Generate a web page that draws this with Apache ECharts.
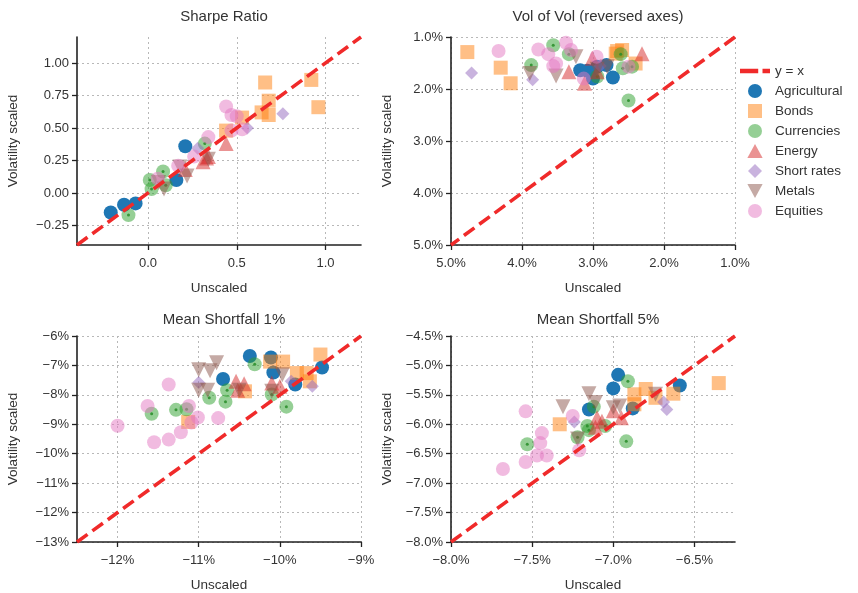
<!DOCTYPE html>
<html>
<head>
<meta charset="utf-8">
<script src="https://cdn.jsdelivr.net/npm/echarts@6/dist/echarts.min.js"></script>
<style>
  html, body { margin: 0; padding: 0; background: #ffffff; }
  #chart { width: 858px; height: 593px; }
</style>
</head>
<body>
<div id="chart"></div>
<script>
// ---- asset classes, in drawing order ----
const classNames = ['Agricultural', 'Bonds', 'Currencies', 'Energy', 'Short rates', 'Metals', 'Equities'];

// ---- Sharpe ratio: [unscaled, volatility scaled] ----
const sharpeAgricultural = [[-0.21, -0.15], [-0.135, -0.09], [-0.07, -0.08], [0.21, 0.36], [0.16, 0.10]];
const sharpeBonds = [[0.66, 0.85], [0.92, 0.87], [0.96, 0.66], [0.68, 0.71], [0.64, 0.62], [0.68, 0.60], [0.44, 0.48], [0.53, 0.58]];
const sharpeCurrencies = [[-0.11, -0.17], [0.01, 0.10], [0.02, 0.03], [0.085, 0.165], [0.10, 0.06], [0.32, 0.38]];
const sharpeEnergy = [[0.21, 0.18], [0.31, 0.24], [0.34, 0.28], [0.44, 0.38], [0.33, 0.27]];
const sharpeShortRates = [[0.76, 0.61], [0.56, 0.50], [0.28, 0.345]];
const sharpeMetals = [[0.09, 0.03], [0.22, 0.13], [0.18, 0.20], [0.34, 0.26], [0.06, 0.08]];
const sharpeEquities = [[0.44, 0.665], [0.47, 0.60], [0.50, 0.59], [0.53, 0.49], [0.47, 0.48], [0.34, 0.43], [0.26, 0.28], [0.17, 0.21], [0.055, 0.11]];

// ---- Vol of vol (%), both axes reversed ----
const volAgricultural = [[3.18, 1.64], [3.00, 1.80], [2.72, 1.78], [2.81, 1.54], [2.94, 1.57], [3.08, 1.65]];
const volBonds = [[4.77, 1.29], [4.30, 1.59], [4.16, 1.89], [2.66, 1.27], [2.59, 1.25], [2.40, 1.51], [2.68, 1.32]];
const volCurrencies = [[3.87, 1.54], [3.56, 1.16], [3.34, 1.33], [2.61, 1.33], [2.58, 1.60], [2.45, 1.57], [2.50, 2.22], [2.94, 1.76]];
const volEnergy = [[2.31, 1.32], [3.01, 1.41], [3.34, 1.67], [3.12, 1.89], [2.94, 1.67]];
const volShortRates = [[4.71, 1.69], [3.85, 1.82], [2.90, 1.56]];
const volMetals = [[3.89, 1.70], [3.52, 1.75], [3.24, 1.38], [2.94, 1.62], [2.80, 1.57]];
const volEquities = [[4.33, 1.27], [3.77, 1.24], [3.63, 1.33], [3.38, 1.11], [3.31, 1.25], [3.52, 1.51], [3.56, 1.56], [2.95, 1.38], [3.13, 1.80], [2.50, 1.57]];

// ---- Mean shortfall 1% (%) ----
const ms1Agricultural = [[-10.37, -6.68], [-10.11, -6.73], [-10.08, -7.24], [-10.70, -7.46], [-9.81, -7.65], [-9.48, -7.07]];
const ms1Bonds = [[-9.50, -6.63], [-10.12, -6.87], [-9.96, -6.87], [-9.79, -7.26], [-9.67, -7.26], [-9.63, -7.54], [-10.43, -7.88], [-11.13, -8.92]];
const ms1Currencies = [[-10.31, -6.96], [-10.65, -7.84], [-10.87, -8.10], [-10.67, -8.23], [-10.10, -7.99], [-9.92, -8.40], [-11.58, -8.64], [-11.28, -8.51], [-11.15, -8.49]];
const ms1Energy = [[-10.54, -7.54], [-10.44, -7.62], [-10.52, -7.84], [-10.10, -7.60], [-10.00, -7.71]];
const ms1ShortRates = [[-11.00, -7.58], [-9.86, -7.54], [-9.60, -7.71]];
const ms1Metals = [[-10.78, -6.91], [-11.00, -7.15], [-10.86, -7.18], [-11.00, -7.84], [-10.89, -7.84], [-10.50, -7.84], [-9.97, -7.32], [-10.10, -7.88]];
const ms1Equities = [[-12.00, -9.05], [-11.63, -8.38], [-11.37, -7.65], [-11.55, -9.61], [-11.37, -9.52], [-11.22, -9.27], [-11.12, -8.38], [-11.01, -8.77], [-10.76, -8.79], [-11.09, -8.94]];

// ---- Mean shortfall 5% (%) ----
const ms5Agricultural = [[-6.97, -5.16], [-7.00, -5.39], [-7.15, -5.75], [-6.88, -5.73], [-6.59, -5.34]];
const ms5Bonds = [[-6.35, -5.30], [-7.33, -6.00], [-6.87, -5.49], [-6.80, -5.40], [-6.74, -5.55], [-6.63, -5.48], [-6.87, -5.66]];
const ms5Currencies = [[-6.91, -5.27], [-7.12, -5.70], [-7.16, -6.03], [-7.05, -6.03], [-7.22, -6.22], [-6.92, -6.29], [-7.53, -6.34], [-7.15, -6.10]];
const ms5Energy = [[-7.10, -5.89], [-7.11, -6.05], [-6.95, -5.89], [-7.00, -5.77], [-7.07, -5.95]];
const ms5ShortRates = [[-7.24, -5.96], [-6.69, -5.62], [-6.67, -5.75]];
const ms5Metals = [[-7.31, -5.70], [-7.15, -5.48], [-7.11, -5.63], [-7.00, -5.72], [-6.96, -5.69], [-6.74, -5.49], [-7.22, -6.25]];
const ms5Equities = [[-7.54, -5.78], [-7.68, -6.76], [-7.54, -6.64], [-7.47, -6.53], [-7.41, -6.53], [-7.45, -6.32], [-7.44, -6.15], [-7.25, -5.86], [-7.21, -6.44]];

// ---- axis ranges and tick values ----
const sharpeXRange = [-0.4, 1.2];
const sharpeYRange = [-0.4, 1.2];
const sharpeXTicks = [0, 0.5, 1.0];
const sharpeYTicks = [-0.25, 0, 0.25, 0.5, 0.75, 1.0];
const volXRange = [1, 5];
const volYRange = [1, 5];
const volTicks = [1, 2, 3, 4, 5];
const ms1XRange = [-12.5, -9];
const ms1YRange = [-13, -6];
const ms1XTicks = [-12, -11, -10, -9];
const ms1YTicks = [-13, -12, -11, -10, -9, -8, -7, -6];
const ms5XRange = [-8, -6.25];
const ms5YRange = [-8, -4.5];
const ms5XTicks = [-8, -7.5, -7, -6.5];
const ms5YTicks = [-8, -7.5, -7, -6.5, -6, -5.5, -5, -4.5];

const panelTitles = ['Sharpe Ratio', 'Vol of Vol (reversed axes)', 'Mean Shortfall 1%', 'Mean Shortfall 5%'];

const FONT = '"Liberation Sans", Arial, Helvetica, sans-serif';
const TEXT = '#333333';
const AXIS = '#222222';

const fmtMinus = s => s.replace('-', '\u2212');
const fmt = (digits, pct) => v => fmtMinus(Number(v).toFixed(digits)) + (pct ? '%' : '');

const panels = [
  { data: [sharpeAgricultural, sharpeBonds, sharpeCurrencies, sharpeEnergy, sharpeShortRates, sharpeMetals, sharpeEquities],
    xRange: sharpeXRange, yRange: sharpeYRange, xTicks: sharpeXTicks, yTicks: sharpeYTicks,
    xFmt: fmt(1, false), yFmt: fmt(2, false), inverse: false },
  { data: [volAgricultural, volBonds, volCurrencies, volEnergy, volShortRates, volMetals, volEquities],
    xRange: volXRange, yRange: volYRange, xTicks: volTicks, yTicks: volTicks,
    xFmt: fmt(1, true), yFmt: fmt(1, true), inverse: true },
  { data: [ms1Agricultural, ms1Bonds, ms1Currencies, ms1Energy, ms1ShortRates, ms1Metals, ms1Equities],
    xRange: ms1XRange, yRange: ms1YRange, xTicks: ms1XTicks, yTicks: ms1YTicks,
    xFmt: fmt(0, true), yFmt: fmt(0, true), inverse: false },
  { data: [ms5Agricultural, ms5Bonds, ms5Currencies, ms5Energy, ms5ShortRates, ms5Metals, ms5Equities],
    xRange: ms5XRange, yRange: ms5YRange, xTicks: ms5XTicks, yTicks: ms5YTicks,
    xFmt: fmt(1, true), yFmt: fmt(1, true), inverse: false }
];

// marker look for each asset class (legend icons are aspect-kept paths)
const markers = [
  { symbol: 'circle', size: 14, color: '#1f77b4', icon: 'circle' },
  { symbol: 'rect', size: 14, color: 'rgba(255,127,14,0.5)', icon: 'path://M0,0H10V10H0Z' },
  { symbol: 'circle', size: 14, color: 'rgba(44,160,44,0.5)', icon: 'circle' },
  { symbol: 'triangle', size: 15, color: 'rgba(214,39,40,0.5)', icon: 'path://M6,0L12,11H0Z' },
  { symbol: 'diamond', size: 13, color: 'rgba(148,103,189,0.5)', icon: 'path://M6,1L11,6L6,11L1,6Z' },
  { symbol: 'triangle', size: 15, color: 'rgba(140,86,75,0.5)', rotate: 180, icon: 'path://M0,0H12L6,11Z' },
  { symbol: 'circle', size: 14, color: 'rgba(227,119,194,0.5)', icon: 'circle' }
];

const gridBoxes = [
  { left: 77, top: 37, width: 284, height: 208 },
  { left: 451, top: 37, width: 284, height: 208 },
  { left: 77, top: 336, width: 284, height: 208 },
  { left: 451, top: 336, width: 284, height: 208 }
];
const titleTops = [4, 4, 307, 307];

const splitStyle = { show: true, lineStyle: { color: '#b8b8b8', width: 1, type: [2, 3] } };

function axisDef(i, isY) {
  const p = panels[i];
  const range = isY ? p.yRange : p.xRange;
  const ticks = isY ? p.yTicks : p.xTicks;
  return {
    type: 'value',
    gridIndex: i,
    min: range[0],
    max: range[1],
    inverse: p.inverse,
    name: isY ? 'Volatility scaled' : 'Unscaled',
    nameLocation: 'middle',
    nameGap: isY ? 57 : 36,
    nameTextStyle: { fontFamily: FONT, fontSize: 13.5, color: TEXT },
    axisLine: { show: true, onZero: false, lineStyle: { color: AXIS, width: 1.6 } },
    axisTick: { show: true, inside: false, length: 5, customValues: ticks, lineStyle: { color: AXIS, width: 1.3 } },
    axisLabel: { show: true, customValues: ticks, margin: isY ? 8 : 12, fontFamily: FONT, fontSize: 13, color: TEXT,
                 formatter: isY ? p.yFmt : p.xFmt, showMinLabel: true, showMaxLabel: true },
    splitLine: splitStyle
  };
}

const series = [];
panels.forEach((p, i) => {
  p.data.forEach((pts, k) => {
    const m = markers[k];
    series.push({
      type: 'scatter',
      name: classNames[k],
      xAxisIndex: i,
      yAxisIndex: i,
      data: pts,
      symbol: m.symbol,
      symbolSize: m.size,
      symbolRotate: m.rotate || 0,
      itemStyle: { color: m.color, borderWidth: 0, opacity: 1 },
      emphasis: { disabled: true },
      z: 2
    });
    if (classNames[k] === 'Currencies') {
      // small centre dot on each currency marker
      series.push({
        type: 'scatter',
        name: 'Currencies',
        xAxisIndex: i,
        yAxisIndex: i,
        data: pts,
        symbol: 'circle',
        symbolSize: 3,
        itemStyle: { color: 'rgba(40,140,40,0.85)', borderWidth: 0, opacity: 1 },
        emphasis: { disabled: true },
        silent: true,
        z: 2
      });
    }
  });
  // reference diagonal from the lower-left to the upper-right corner of the axes
  series.push({
    type: 'line',
    name: 'y = x',
    xAxisIndex: i,
    yAxisIndex: i,
    data: [[p.xRange[0], p.yRange[0]], [p.xRange[1], p.yRange[1]]],
    showSymbol: false,
    symbol: 'none',
    lineStyle: { color: '#f02a2a', width: 3.6, type: [13, 6] },
    itemStyle: { color: '#f02a2a' },
    emphasis: { disabled: true },
    silent: true,
    z: 5
  });
});

const titles = panelTitles.map((t, i) => ({
  text: t,
  left: gridBoxes[i].left + gridBoxes[i].width / 2,
  top: titleTops[i],
  textAlign: 'center',
  textStyle: { fontFamily: FONT, fontSize: 15, fontWeight: 'normal', color: TEXT }
}));

const option = {
  backgroundColor: '#ffffff',
  animation: false,
  title: titles,
  grid: gridBoxes,
  xAxis: panels.map((p, i) => axisDef(i, false)),
  yAxis: panels.map((p, i) => axisDef(i, true)),
  legend: {
    orient: 'vertical',
    left: 735,
    top: 59,
    itemWidth: 30,
    itemHeight: 14,
    itemGap: 6,
    symbolKeepAspect: true,
    textStyle: { fontFamily: FONT, fontSize: 13.5, color: TEXT },
    data: [{ name: 'y = x', icon: 'path://M0,0H17V4H0Z M21,0H28V4H21Z' }].concat(
      classNames.map((n, k) => ({ name: n, icon: markers[k].icon })))
  },
  series: series
};

const chart = echarts.init(document.getElementById('chart'), null, { renderer: 'canvas' });
chart.setOption(option);
</script>
</body>
</html>
